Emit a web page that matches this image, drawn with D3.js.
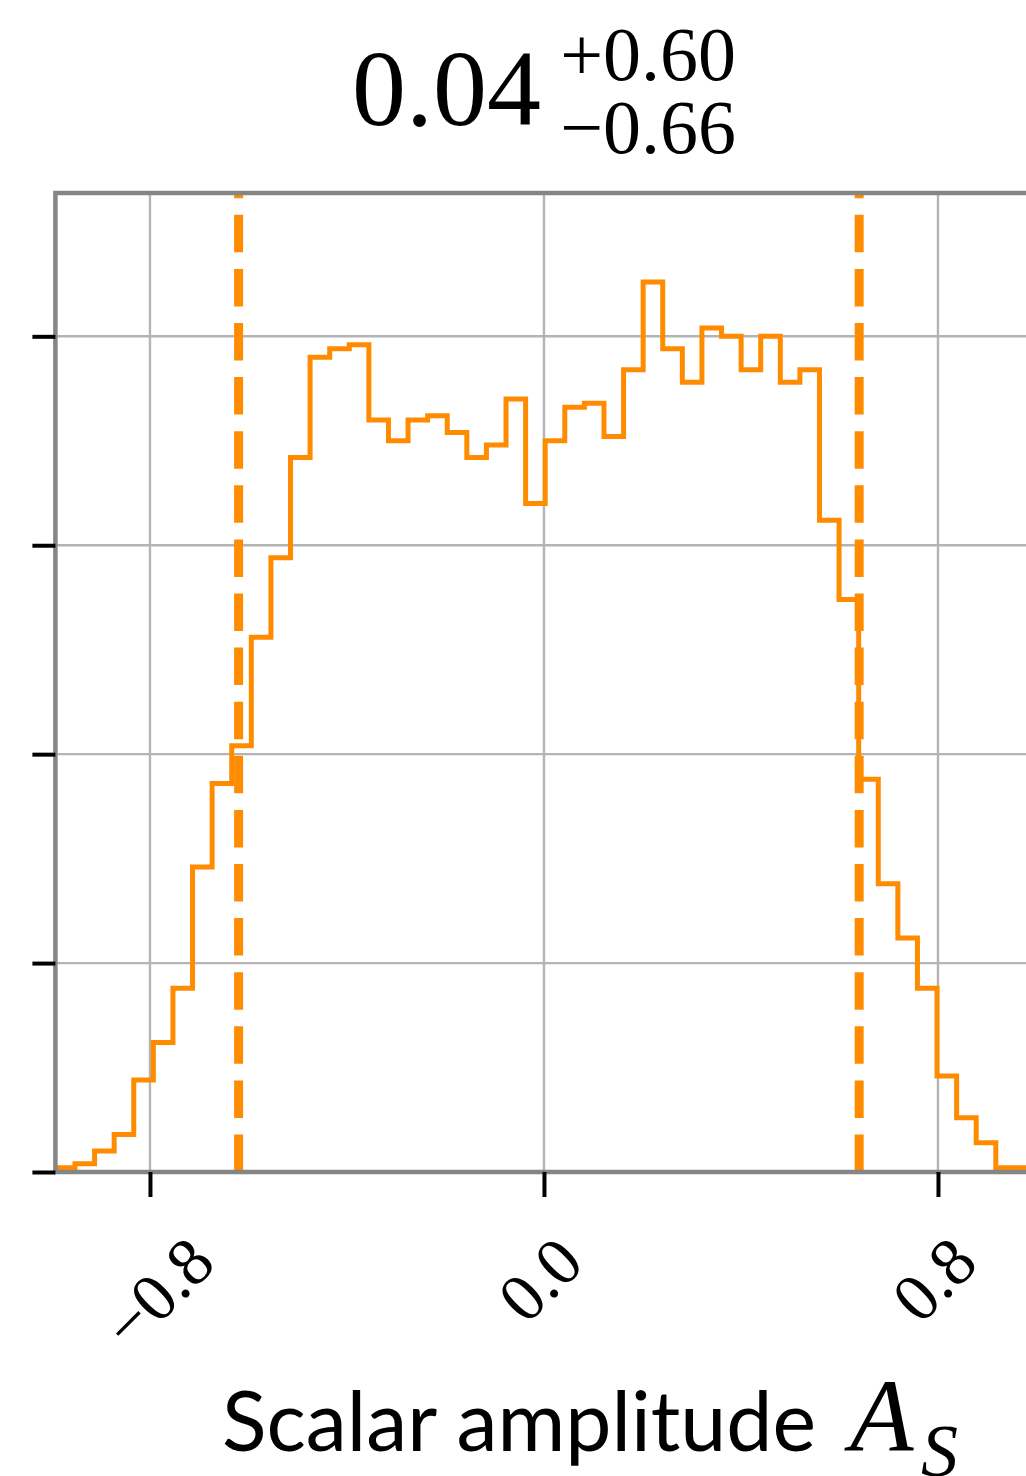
<!DOCTYPE html>
<html>
<head>
<meta charset="utf-8">
<script src="https://cdn.jsdelivr.net/npm/d3@7/dist/d3.min.js"></script>
<style>
  html, body { margin: 0; padding: 0; background: #ffffff; }
  svg { display: block; }
</style>
</head>
<body>
<script>
// Marginal posterior of the scalar amplitude: 50 equal-width bins over the sampled range
const binRange = [-0.992, 0.997];
const binCounts = [
  1, 2, 5, 9, 22, 31, 44, 73, 93, 102,
  128, 147, 171, 195, 197, 198, 180, 175, 180, 181,
  177, 171, 174, 185, 160, 175, 183, 184, 176, 192,
  213, 197, 189, 202, 200, 192, 200, 189, 192, 156,
  137, 94, 69, 56, 44, 23, 13, 7, 1, 1
];
// Summary: median with 16th / 84th percentile offsets
const medianValue = 0.04;
const errUpper = 0.60;
const errLower = 0.66;
const xTickValues = [-0.8, 0.0, 0.8];
const xTickLabels = ["\u22120.8", "0.0", "0.8"];
const yTickValues = [0, 50, 100, 150, 200];
const xLabelText = "Scalar amplitude";
const xLabelSymbol = "A";
const xLabelSubscript = "S";

const W = 1026, H = 1476;
const plot = { left: 55.4, right: 1035, top: 193, bottom: 1172 };
const orange = "#ff8c00";

const svg = d3.select("body").append("svg")
  .attr("width", W).attr("height", H)
  .attr("viewBox", `0 0 ${W} ${H}`);

const x = d3.scaleLinear().domain(binRange).range([plot.left, plot.right]);
const y = d3.scaleLinear().domain([0, 1.1 * d3.max(binCounts)]).range([plot.bottom, plot.top]);

svg.append("defs").append("clipPath").attr("id", "plot-area")
  .append("rect")
  .attr("x", plot.left).attr("y", plot.top)
  .attr("width", plot.right - plot.left).attr("height", plot.bottom - plot.top);

// grid
const grid = svg.append("g");
grid.selectAll("line.vx").data(xTickValues).join("line")
  .attr("x1", d => x(d)).attr("x2", d => x(d))
  .attr("y1", plot.top).attr("y2", plot.bottom)
  .attr("stroke", "#b4b4b4").attr("stroke-width", 2.4);
grid.selectAll("line.hy").data(yTickValues).join("line")
  .attr("x1", plot.left).attr("x2", plot.right)
  .attr("y1", d => y(d)).attr("y2", d => y(d))
  .attr("stroke", "#b4b4b4").attr("stroke-width", 2.4);

// histogram as a step outline
const binWidth = (binRange[1] - binRange[0]) / binCounts.length;
const stepPoints = binCounts.map((c, i) => [binRange[0] + i * binWidth, c]);
stepPoints.push([binRange[1], binCounts[binCounts.length - 1]]);

const body = svg.append("g").attr("clip-path", "url(#plot-area)");
body.append("path")
  .datum(stepPoints)
  .attr("d", d3.line().x(d => x(d[0])).y(d => y(d[1])).curve(d3.curveStepAfter))
  .attr("fill", "none")
  .attr("stroke", orange)
  .attr("stroke-width", 5)
  .attr("stroke-linejoin", "miter");

// quantile markers
const quantiles = [medianValue - errLower, medianValue + errUpper];
body.selectAll("line.q").data(quantiles).join("line")
  .attr("x1", d => x(d)).attr("x2", d => x(d))
  .attr("y1", plot.bottom).attr("y2", plot.top)
  .attr("stroke", orange)
  .attr("stroke-width", 9)
  .attr("stroke-dasharray", "37.5,16.6");

// frame
svg.append("rect")
  .attr("x", plot.left).attr("y", plot.top)
  .attr("width", plot.right - plot.left).attr("height", plot.bottom - plot.top)
  .attr("fill", "none").attr("stroke", "#858585").attr("stroke-width", 4.5);

// axes (ticks only, no y labels)
const xAxis = d3.axisBottom(x).tickValues(xTickValues).tickSize(25).tickFormat("");
const gx = svg.append("g").attr("transform", `translate(0,${plot.bottom})`).call(xAxis);
gx.select(".domain").remove();
gx.selectAll(".tick line").attr("stroke", "#000").attr("stroke-width", 4);

const yAxis = d3.axisLeft(y).tickValues(yTickValues).tickSize(23).tickFormat("");
const gy = svg.append("g").attr("transform", `translate(${plot.left},0)`).call(yAxis);
gy.select(".domain").remove();
gy.selectAll(".tick line").attr("stroke", "#000").attr("stroke-width", 4);

// rotated x tick labels
const tickFont = 68;
const labelTop = 1233;
const tl = svg.append("g");
xTickValues.forEach((v, i) => {
  const t = tl.append("text")
    .attr("font-family", "'Liberation Serif', 'DejaVu Serif', serif")
    .attr("font-size", tickFont)
    .attr("text-anchor", "middle")
    .attr("fill", "#000")
    .text(xTickLabels[i]);
  const w = t.node().getComputedTextLength();
  const h = 0.68 * tickFont;
  const half = (w + h) / Math.SQRT2 / 2;
  const cx = x(v) + (v < 0 ? 8 : -4);
  const cy = labelTop + half;
  t.attr("x", cx).attr("y", cy).attr("dy", "0.34em")
    .attr("transform", `rotate(-45,${cx},${cy})`);
});

// x axis title: sans-serif words followed by an italic math symbol
const xl = svg.append("text")
  .attr("x", 222).attr("y", 1451)
  .attr("font-family", "Lato, 'Open Sans', sans-serif")
  .attr("font-size", 87)
  .attr("fill", "#000")
  .text(xLabelText);
const wordsWidth = 594;
const measured = xl.node().getComputedTextLength();
xl.attr("font-size", 87 * wordsWidth / measured);
const sym = svg.append("text")
  .attr("font-family", "'Liberation Serif', serif")
  .attr("font-style", "italic")
  .attr("fill", "#000");
sym.append("tspan")
  .attr("x", 850).attr("y", 1451)
  .attr("font-size", 104)
  .text(xLabelSymbol);
sym.append("tspan")
  .attr("x", 921).attr("y", 1476)
  .attr("font-size", 74)
  .text(xLabelSubscript);

// panel title: median with asymmetric errors
const fmt = d3.format(".2f");
const title = svg.append("text")
  .attr("font-family", "'Liberation Serif', serif")
  .attr("fill", "#000");
title.append("tspan")
  .attr("x", 541).attr("y", 125)
  .attr("text-anchor", "end")
  .attr("font-size", 108)
  .text(fmt(medianValue));
title.append("tspan")
  .attr("x", 736).attr("y", 80)
  .attr("text-anchor", "end")
  .attr("font-size", 76)
  .text("+" + fmt(errUpper));
title.append("tspan")
  .attr("x", 736).attr("y", 153)
  .attr("text-anchor", "end")
  .attr("font-size", 76)
  .text("\u2212" + fmt(errLower));
</script>
</body>
</html>
